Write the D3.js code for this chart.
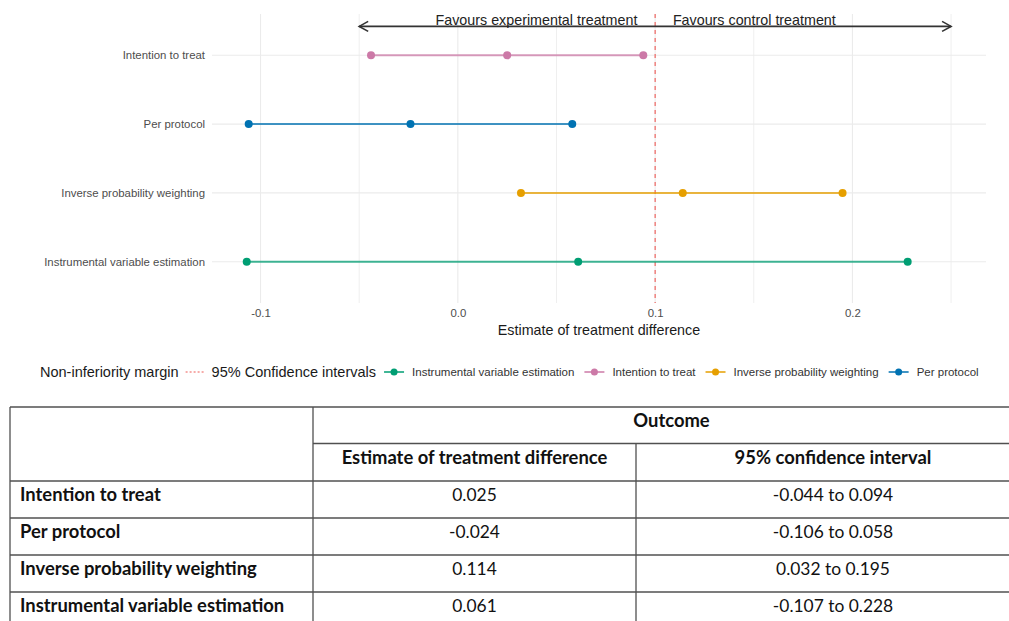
<!DOCTYPE html>
<html>
<head>
<meta charset="utf-8">
<script src="https://cdn.jsdelivr.net/npm/d3@7"></script>
<style>
  body { margin: 0; background: #fff; }
  svg { display: block; }
</style>
</head>
<body>
<svg id="chart" width="1009" height="621"></svg>
<script>
// Analysis methods and their estimates with 95% confidence limits
const methods = ["Intention to treat", "Per protocol", "Inverse probability weighting", "Instrumental variable estimation"];
const estimates = [0.025, -0.024, 0.114, 0.061];
const lower = [-0.044, -0.106, 0.032, -0.107];
const upper = [0.094, 0.058, 0.195, 0.228];
const methodColors = ["#cc79a7", "#0072b2", "#e69f00", "#009e73"];
const nonInferiorityMargin = 0.1;
const xMajorTicks = [-0.1, 0.0, 0.1, 0.2];
const xMinorTicks = [-0.05, 0.05, 0.15, 0.25];
const arrowSpan = [-0.05, 0.25];
const legendOrder = ["Instrumental variable estimation", "Intention to treat", "Inverse probability weighting", "Per protocol"];
const tableColumns = ["Estimate of treatment difference", "95% confidence interval"];

const svg = d3.select("#chart");
const plotFont = "'Liberation Sans', Arial, Helvetica, sans-serif";
const tableFont = "Lato, 'Open Sans', sans-serif";
const hyphen = s => s.replace(/\u2212/g, "-");

// Plot panel
const panel = { left: 212, right: 986, top: 14, bottom: 303 };
const x = d3.scaleLinear().domain([-0.1246, 0.2677]).range([panel.left, panel.right]);
const y = d3.scalePoint().domain(methods).range([panel.top, panel.bottom]).padding(0.6);

const grid = svg.append("g");
grid.selectAll("line.minor").data(xMinorTicks).join("line")
  .attr("x1", d => x(d)).attr("x2", d => x(d))
  .attr("y1", panel.top).attr("y2", panel.bottom)
  .attr("stroke", "#efefef").attr("stroke-width", 1);
grid.selectAll("line.major").data(xMajorTicks).join("line")
  .attr("x1", d => x(d)).attr("x2", d => x(d))
  .attr("y1", panel.top).attr("y2", panel.bottom)
  .attr("stroke", "#ebebeb").attr("stroke-width", 1.1);
grid.selectAll("line.row").data(methods).join("line")
  .attr("x1", panel.left).attr("x2", panel.right)
  .attr("y1", d => y(d)).attr("y2", d => y(d))
  .attr("stroke", "#ebebeb").attr("stroke-width", 1.1);

// Axes (text only, no axis lines)
const xAxis = svg.append("g")
  .attr("transform", `translate(0,${panel.bottom})`)
  .call(d3.axisBottom(x).tickValues(xMajorTicks).tickFormat(d => hyphen(d3.format(".1f")(d))).tickSize(0).tickPadding(6));
xAxis.select(".domain").remove();
xAxis.selectAll("text").attr("font-family", plotFont).attr("font-size", 11.4).attr("fill", "#4d4d4d");

const yAxis = svg.append("g")
  .attr("transform", `translate(${panel.left},0)`)
  .call(d3.axisLeft(y).tickSize(0).tickPadding(7));
yAxis.select(".domain").remove();
yAxis.selectAll("text").attr("font-family", plotFont).attr("font-size", 11.4).attr("fill", "#4d4d4d");

svg.append("text")
  .attr("x", (panel.left + panel.right) / 2).attr("y", 335)
  .attr("text-anchor", "middle")
  .attr("font-family", plotFont).attr("font-size", 14.3).attr("fill", "#1a1a1a")
  .text("Estimate of treatment difference");

// Non-inferiority margin
svg.append("line")
  .attr("x1", x(nonInferiorityMargin)).attr("x2", x(nonInferiorityMargin))
  .attr("y1", panel.top).attr("y2", panel.bottom)
  .attr("stroke", "#ee5a55").attr("stroke-width", 1.1).attr("stroke-dasharray", "4,4");

// Direction arrow and labels
const arrowY = y(methods[0]) - 0.42 * y.step();
const arrow = svg.append("g").attr("stroke", "#333").attr("stroke-width", 1.6).attr("fill", "none");
arrow.append("line").attr("x1", x(arrowSpan[0])).attr("x2", x(arrowSpan[1])).attr("y1", arrowY).attr("y2", arrowY);
const head = 9, spread = 5;
arrow.append("path").attr("d", `M${x(arrowSpan[0]) + head},${arrowY - spread} L${x(arrowSpan[0])},${arrowY} L${x(arrowSpan[0]) + head},${arrowY + spread}`);
arrow.append("path").attr("d", `M${x(arrowSpan[1]) - head},${arrowY - spread} L${x(arrowSpan[1])},${arrowY} L${x(arrowSpan[1]) - head},${arrowY + spread}`);

svg.append("text")
  .attr("x", x(nonInferiorityMargin - 0.009)).attr("y", arrowY - 1.5)
  .attr("text-anchor", "end")
  .attr("font-family", plotFont).attr("font-size", 14.3).attr("fill", "#222")
  .text("Favours experimental treatment");
svg.append("text")
  .attr("x", x(nonInferiorityMargin + 0.009)).attr("y", arrowY - 1.5)
  .attr("text-anchor", "start")
  .attr("font-family", plotFont).attr("font-size", 14.3).attr("fill", "#222")
  .text("Favours control treatment");

// Confidence intervals with point estimates
const rows = methods.map((m, i) => ({ method: m, est: estimates[i], lo: lower[i], hi: upper[i], color: methodColors[i] }));
const ci = svg.append("g").selectAll("g").data(rows).join("g");
ci.append("line")
  .attr("x1", d => x(d.lo)).attr("x2", d => x(d.hi))
  .attr("y1", d => y(d.method)).attr("y2", d => y(d.method))
  .attr("stroke", d => d.color).attr("stroke-width", 2).attr("stroke-opacity", 0.75);
ci.selectAll("circle").data(d => [d.lo, d.est, d.hi].map(v => ({ v, d }))).join("circle")
  .attr("cx", p => x(p.v)).attr("cy", p => y(p.d.method)).attr("r", 4)
  .attr("fill", p => p.d.color);

// Legend
const legendY = 372;
const legend = svg.append("g").attr("font-family", plotFont);
let lx = 40;
const t1 = legend.append("text").attr("x", lx).attr("y", legendY).attr("dy", "0.35em")
  .attr("font-size", 14.5).attr("fill", "#1a1a1a").text("Non-inferiority margin");
lx += t1.node().getComputedTextLength() + 7;
legend.append("line").attr("x1", lx).attr("x2", lx + 18).attr("y1", legendY).attr("y2", legendY)
  .attr("stroke", "#ee5a55").attr("stroke-width", 1.1).attr("stroke-dasharray", "2,2");
lx += 26;
const t2 = legend.append("text").attr("x", lx).attr("y", legendY).attr("dy", "0.35em")
  .attr("font-size", 14.5).attr("fill", "#1a1a1a").text("95% Confidence intervals");
lx += t2.node().getComputedTextLength() + 8;
legendOrder.forEach(name => {
  const c = methodColors[methods.indexOf(name)];
  legend.append("line").attr("x1", lx).attr("x2", lx + 20).attr("y1", legendY).attr("y2", legendY)
    .attr("stroke", c).attr("stroke-width", 2).attr("stroke-opacity", 0.75);
  legend.append("circle").attr("cx", lx + 10).attr("cy", legendY).attr("r", 3.5).attr("fill", c);
  lx += 28;
  const t = legend.append("text").attr("x", lx).attr("y", legendY).attr("dy", "0.35em")
    .attr("font-size", 11.5).attr("fill", "#333").text(name);
  lx += t.node().getComputedTextLength() + 10;
});

// Results table
const tbl = { left: 10, right: 1030, top: 407, col1: 313, col2: 636, head1: 443.5, head2: 481, rowH: 37 };
const tg = svg.append("g").attr("font-family", tableFont).attr("fill", "#111");
const lineColor = "#505050";
const rowLines = d3.range(methods.length + 1).map(i => tbl.head2 + i * tbl.rowH);
const hl = (x1, x2, yy) => tg.append("line").attr("x1", x1).attr("x2", x2).attr("y1", yy).attr("y2", yy)
  .attr("stroke", lineColor).attr("stroke-width", 1.5);
const vl = (xx, y1, y2) => tg.append("line").attr("x1", xx).attr("x2", xx).attr("y1", y1).attr("y2", y2)
  .attr("stroke", lineColor).attr("stroke-width", 1.3);
hl(tbl.left, tbl.right, tbl.top);
hl(tbl.col1, tbl.right, tbl.head1);
rowLines.forEach(yy => hl(tbl.left, tbl.right, yy));
const tBottom = rowLines[rowLines.length - 1];
vl(tbl.left, tbl.top, tBottom);
vl(tbl.col1, tbl.top, tBottom);
vl(tbl.col2, tbl.head1, tBottom);

// Cell text sits near the top of each cell; baseline offset from the cell's top edge
const baseOffset = 20;
const boldSize = 18.4, plainSize = 17.4;
tg.append("text").attr("x", (tbl.col1 + tbl.right) / 2).attr("y", tbl.top + baseOffset)
  .attr("text-anchor", "middle").attr("font-weight", "bold").attr("font-size", boldSize).text("Outcome");
tg.append("text").attr("x", (tbl.col1 + tbl.col2) / 2).attr("y", tbl.head1 + baseOffset)
  .attr("text-anchor", "middle").attr("font-weight", "bold").attr("font-size", boldSize).text(tableColumns[0]);
tg.append("text").attr("x", (tbl.col2 + tbl.right) / 2).attr("y", tbl.head1 + baseOffset)
  .attr("text-anchor", "middle").attr("font-weight", "bold").attr("font-size", boldSize).text(tableColumns[1]);

const fmt = v => hyphen(d3.format(".3f")(v));
rows.forEach((r, i) => {
  const by = rowLines[i] + baseOffset;
  tg.append("text").attr("x", tbl.left + 10).attr("y", by)
    .attr("font-weight", "bold").attr("font-size", boldSize).text(r.method);
  tg.append("text").attr("x", (tbl.col1 + tbl.col2) / 2).attr("y", by)
    .attr("text-anchor", "middle").attr("font-size", plainSize).text(fmt(r.est));
  tg.append("text").attr("x", (tbl.col2 + tbl.right) / 2).attr("y", by)
    .attr("text-anchor", "middle").attr("font-size", plainSize)
    .text(`${fmt(r.lo)} to ${fmt(r.hi)}`);
});
</script>
</body>
</html>
